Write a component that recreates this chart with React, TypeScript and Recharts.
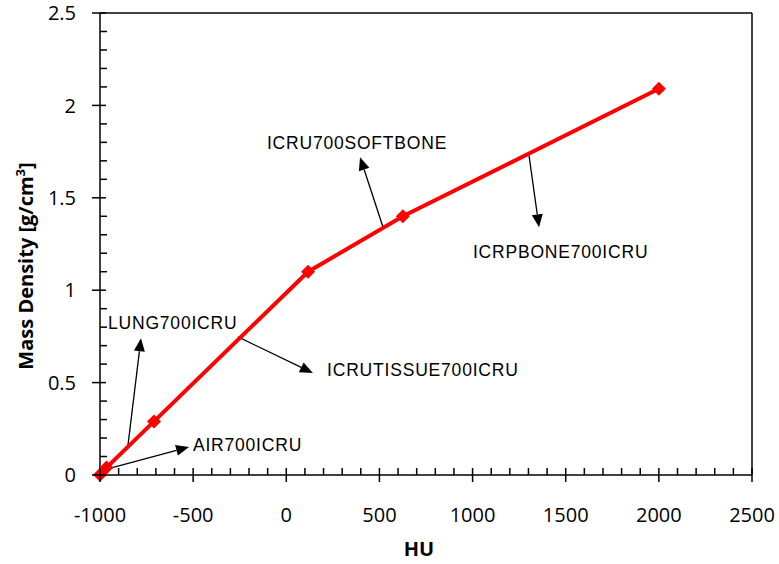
import { Line, LineChart, ReferenceDot, ReferenceLine, XAxis, YAxis } from "recharts";

// HU -> mass density calibration points
const huValues = [-1000, -965, -710, 117, 626, 2000];
const densityValues = [0.0012, 0.04, 0.29, 1.1, 1.4, 2.09];

const xMajorTicks = [-1000, -500, 0, 500, 1000, 1500, 2000, 2500];
const yMajorTicks = [0, 0.5, 1, 1.5, 2, 2.5];

// annotation labels (anchor = left edge / vertical middle of the text)
const labelNames = ["LUNG700ICRU", "AIR700ICRU", "ICRUTISSUE700ICRU", "ICRU700SOFTBONE", "ICRPBONE700ICRU"];
const labelHU = [-957, -501, 219, -104, 1002];
const labelDensity = [0.822, 0.162, 0.568, 1.8, 1.207];

// arrows: start on the curve, tip near the label
const arrowFromHU = [-850, -984, -259, 519, 1303];
const arrowFromDensity = [0.16, 0.027, 0.747, 1.342, 1.73];
const arrowToHU = [-780, -522, 143, 396, 1357];
const arrowToDensity = [0.74, 0.152, 0.552, 1.72, 1.34];

const data = huValues.map((hu, i) => ({ hu, density: densityValues[i] }));

const xTicks: number[] = [];
for (let v = -1000; v <= 2500; v += 100) xTicks.push(v);
const yTicks: number[] = [];
for (let i = 0; i <= 25; i++) yTicks.push(i / 10);

const tickFont = "'Open Sans', sans-serif";

function XTick(props: any) {
  const { x, y, payload } = props;
  const major = xMajorTicks.includes(payload.value);
  return (
    <g>
      {major ? (
        <line x1={x} x2={x} y1={y - 7} y2={y + 7} stroke="#000" strokeWidth={1.5} />
      ) : (
        <line x1={x} x2={x} y1={y} y2={y - 7} stroke="#000" strokeWidth={1.5} />
      )}
      {major && (
        <text x={x} y={y + 47} textAnchor="middle" fontSize={20} fontFamily={tickFont} fill="#000">
          {payload.value}
        </text>
      )}
    </g>
  );
}

function YTick(props: any) {
  const { x, y, payload } = props;
  const v = Math.round(payload.value * 10) / 10;
  const major = yMajorTicks.includes(v);
  return (
    <g>
      {major ? (
        <line x1={x - 8} x2={x + 6} y1={y} y2={y} stroke="#000" strokeWidth={1.5} />
      ) : (
        <line x1={x} x2={x + 7} y1={y} y2={y} stroke="#000" strokeWidth={1.5} />
      )}
      {major && (
        <text x={x - 24} y={y} dy="0.36em" textAnchor="end" fontSize={20} fontFamily={tickFont} fill="#000">
          {v}
        </text>
      )}
    </g>
  );
}

function Diamond(props: any) {
  const { cx, cy, index } = props;
  const r = 7;
  return (
    <polygon
      key={index}
      points={`${cx},${cy - r} ${cx + r},${cy} ${cx},${cy + r} ${cx - r},${cy}`}
      fill="#ff0000"
    />
  );
}

function Arrow(props: any) {
  const { x1, y1, x2, y2 } = props;
  const dx = x2 - x1;
  const dy = y2 - y1;
  const len = Math.sqrt(dx * dx + dy * dy) || 1;
  const ux = dx / len;
  const uy = dy / len;
  const headLen = 13;
  const headW = 5.5;
  const bx = x2 - ux * headLen;
  const by = y2 - uy * headLen;
  return (
    <g>
      <line x1={x1} y1={y1} x2={bx} y2={by} stroke="#000" strokeWidth={1.3} />
      <polygon
        points={`${x2},${y2} ${bx - uy * headW},${by + ux * headW} ${bx + uy * headW},${by - ux * headW}`}
        fill="#000"
      />
    </g>
  );
}

function makeLabel(text: string) {
  return (props: any) => (
    <text
      x={props.cx}
      y={props.cy}
      dy="0.36em"
      fontSize={17.5}
      letterSpacing={0.8}
      fontFamily="'Liberation Sans', Arial, sans-serif"
      fill="#000"
    >
      {text}
    </text>
  );
}

function YTitle() {
  return (
    <text
      transform="translate(33, 266) rotate(-90)"
      textAnchor="middle"
      fontSize={20}
      fontWeight="bold"
      fontFamily={tickFont}
      fill="#000"
    >
      Mass Density [g/cm
      <tspan dy={-8} fontSize={13}>3</tspan>
      <tspan dy={8}>]</tspan>
    </text>
  );
}

function XTitle() {
  return (
    <text x={419} y={556} textAnchor="middle" fontSize={20} fontWeight="bold" fontFamily={tickFont} fill="#000">
      HU
    </text>
  );
}

export default function App() {
  return (
    <div style={{ position: "absolute", left: 0, top: 0, background: "#fff" }}>
      <LineChart width={779} height={564} data={data} margin={{ top: 13, right: 27, bottom: 29, left: 40 }}>
        <XAxis
          dataKey="hu"
          type="number"
          domain={[-1000, 2500]}
          ticks={xTicks}
          interval={0}
          tickSize={0}
          tickMargin={0}
          tickLine={false}
          tick={<XTick />}
          height={60}
          axisLine={{ stroke: "#000", strokeWidth: 1.5 }}
          label={{ content: () => <XTitle /> }}
        />
        <YAxis
          type="number"
          domain={[0, 2.5]}
          ticks={yTicks}
          interval={0}
          tickSize={0}
          tickMargin={0}
          tickLine={false}
          tick={<YTick />}
          width={60}
          axisLine={{ stroke: "#000", strokeWidth: 1.5 }}
          label={{ content: () => <YTitle /> }}
        />
        <ReferenceLine y={2.5} stroke="#000" strokeWidth={1.5} />
        <ReferenceLine x={2500} stroke="#000" strokeWidth={1.5} />
        {labelNames.map((name, i) => (
          <ReferenceLine
            key={"a" + name}
            segment={[
              { x: arrowFromHU[i], y: arrowFromDensity[i] },
              { x: arrowToHU[i], y: arrowToDensity[i] },
            ]}
            shape={<Arrow />}
          />
        ))}
        {labelNames.map((name, i) => (
          <ReferenceDot key={"l" + name} x={labelHU[i]} y={labelDensity[i]} r={0} shape={makeLabel(name)} />
        ))}
        <Line
          dataKey="density"
          stroke="#ff0000"
          strokeWidth={4}
          dot={Diamond}
          activeDot={false}
          isAnimationActive={false}
        />
      </LineChart>
    </div>
  );
}
